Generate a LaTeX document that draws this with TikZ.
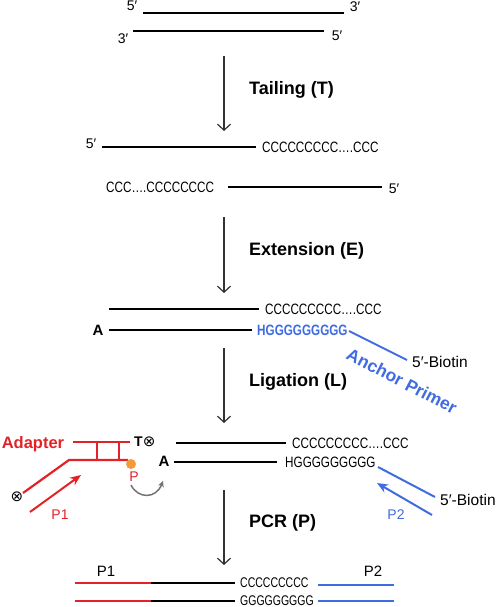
\documentclass[tikz,border=0pt]{standalone}
\usepackage{fontspec}
\usepackage{graphicx}
\setmainfont{Liberation Sans}
\newfontfamily\symfont{DejaVu Sans}
\usetikzlibrary{arrows.meta}
\definecolor{adred}{HTML}{E32228}
\definecolor{anblue}{HTML}{3F6CE1}
\definecolor{dotorange}{HTML}{F39B3C}
\newcommand{\cond}[1]{\scalebox{0.78}[1]{#1}}
\tikzset{
  strand/.style={line width=2.7pt},
  thinstrand/.style={line width=2pt},
  procarrow/.style={draw=black!80, line width=1.2pt, -{Straight Barb[length=6pt,width=13pt]}},
  steplabel/.style={font=\fontsize{18}{20}\selectfont\bfseries, anchor=west, inner sep=0pt},
  seq/.style={font=\fontsize{15}{17}\selectfont, anchor=west, inner sep=0pt},
  prime/.style={font=\fontsize{14}{16}\selectfont, inner sep=0pt},
  endA/.style={font=\fontsize{15}{17}\selectfont\bfseries, inner sep=0pt},
  primer/.style={draw=#1, line width=2pt, -{Stealth[length=11pt,width=9pt]}}
}
\begin{document}
\begin{tikzpicture}[x=1pt,y=-1pt]
\useasboundingbox (0,0) rectangle (496,607);

% process arrows between the stages
\foreach \n/\ya/\yb/\yl/\txt in {1/56/131/90/Tailing (T), 2/217/293/251/Extension (E),
                                  3/348/423/382/Ligation (L), 4/490/565/523/PCR (P)} {
  \coordinate (from\n) at (224,\ya);
  \coordinate (to\n) at (224,\yb);
  \draw[procarrow] (from\n) -- (to\n);
  \node[steplabel] (step\n) at (249,\yl) {\txt};
}

% double strand
\coordinate (a1) at (143,13); \coordinate (a2) at (344,13);
\coordinate (b1) at (133,31); \coordinate (b2) at (324,31);
\draw[strand] (a1) -- (a2);
\draw[strand] (b1) -- (b2);
\node[prime] (a5) at (132,6) {5′};
\node[prime] (a3) at (355,7) {3′};
\node[prime] (b3) at (123,39) {3′};
\node[prime] (b5) at (337,36) {5′};

% tailing
\coordinate (c1) at (102,147); \coordinate (c2) at (256,147);
\draw[strand] (c1) -- (c2);
\node[seq] (ctail) at (262,147) {\cond{CCCCCCCCC….CCC}};
\node[prime] (c5) at (91,144) {5′};
\coordinate (d1) at (228,187); \coordinate (d2) at (382,187);
\draw[strand] (d1) -- (d2);
\node[seq] (dtail) at (106,187) {\cond{CCC….CCCCCCCC}};
\node[prime] (d5) at (394,189) {5′};

% extension
\coordinate (e1) at (109,309); \coordinate (e2) at (259,309);
\draw[strand] (e1) -- (e2);
\node[seq] (etail) at (265,309) {\cond{CCCCCCCCC….CCC}};
\coordinate (f1) at (109,330); \coordinate (f2) at (252,330);
\draw[strand] (f1) -- (f2);
\node[endA] (fA) at (98,330) {A};
\node[seq, font=\fontsize{15}{17}\selectfont\bfseries, text=anblue] (fG) at (257,330) {\cond{HGGGGGGGGG}};
\coordinate (g1) at (349,331); \coordinate (g2) at (407,360);
\draw[anblue, line width=2pt] (g1) -- (g2);
\node[seq, font=\fontsize{15.5}{17}\selectfont] (gbio) at (412,362) {5′-Biotin};
\node[font=\fontsize{17.5}{19}\selectfont\bfseries, text=anblue, rotate=-27.5, inner sep=0pt] (anchor) at (402,381) {Anchor Primer};

% ligation
\coordinate (h1) at (176,443); \coordinate (h2) at (286,443);
\draw[strand] (h1) -- (h2);
\node[seq] (htail) at (292,443) {\cond{CCCCCCCCC….CCC}};
\coordinate (i1) at (174,462); \coordinate (i2) at (277,462);
\draw[strand] (i1) -- (i2);
\node[endA] (iA) at (164,461) {A};
\node[seq] (iG) at (285,462) {\cond{HGGGGGGGGG}};
\coordinate (j1) at (378,467); \coordinate (j2) at (435,497);
\draw[anblue, line width=2pt] (j1) -- (j2);
\node[seq, font=\fontsize{15.5}{17}\selectfont] (jbio) at (440,500) {5′-Biotin};
\coordinate (k1) at (432,515); \coordinate (k2) at (377,483);
\draw[primer=anblue] (k1) -- (k2);
\node[font=\fontsize{14}{16}\selectfont, text=anblue, inner sep=0pt] (kP2) at (396,515) {P2};

% adapter
\node[font=\fontsize{16.5}{18}\selectfont\bfseries, text=adred, inner sep=0pt] (adapter) at (33,444) {Adapter};
\coordinate (m1) at (73,442); \coordinate (m2) at (130,442);
\coordinate (n1) at (69,460); \coordinate (n2) at (128,460);
\coordinate (n0) at (23,493);
\draw[adred, line width=2.2pt] (m1) -- (m2);
\draw[adred, line width=2.2pt] (n0) -- (n1) -- (n2);
\foreach \x in {97,119}
  \draw[adred, line width=2pt] (\x,442) -- (\x,460);
\node[font=\fontsize{15}{17}\selectfont\symfont, inner sep=0pt] (ncross) at (17,497) {⊗};
\node[seq, font=\fontsize{14}{16}\selectfont\bfseries] (mT) at (134,442) {T{\symfont\mdseries\fontsize{15}{17}\selectfont ⊗}};
\node[circle, fill=dotorange, minimum size=10pt, inner sep=0pt] (pdot) at (131,464) {};
\node[font=\fontsize{14}{16}\selectfont, text=adred, inner sep=0pt] (pP) at (134,477) {P};
\draw[black!55, line width=1.5pt, -{Stealth[length=6pt,width=6pt]}] (131,485) .. controls (138,499) and (156,499) .. (163,481);
\coordinate (q1) at (30,512); \coordinate (q2) at (81,475);
\draw[primer=adred] (q1) -- (q2);
\node[font=\fontsize{14}{16}\selectfont, text=adred, inner sep=0pt] (qP1) at (60,515) {P1};

% PCR product
\foreach \y/\b/\txt in {583/585/CCCCCCCCC, 601/601/GGGGGGGGG} {
  \draw[adred, thinstrand] (75,\y) -- (151,\y);
  \draw[strand] (151,\y) -- (235,\y);
  \node[seq, font=\fontsize{14}{16}\selectfont] at (240,\y) {\scalebox{0.75}[1]{\txt}};
  \draw[anblue, thinstrand] (318,\b) -- (394,\b);
}
\node[font=\fontsize{15}{17}\selectfont, inner sep=0pt] (rP1) at (106,571) {P1};
\node[font=\fontsize{15}{17}\selectfont, inner sep=0pt] (rP2) at (373,571) {P2};
\end{tikzpicture}
\end{document}
